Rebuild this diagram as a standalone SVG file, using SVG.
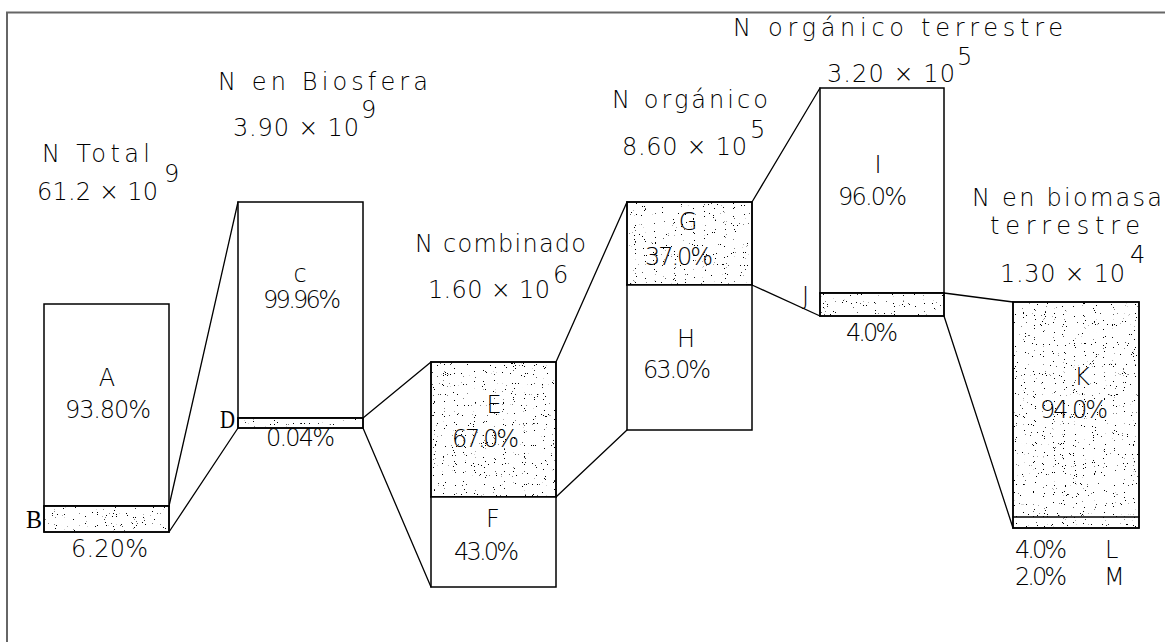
<svg xmlns="http://www.w3.org/2000/svg" width="1165" height="642" viewBox="0 0 1165 642">
  <defs>
    <!-- random speckle used for the shaded fractions -->
    <filter id="speckle" x="0" y="0" width="1" height="1" filterUnits="objectBoundingBox" color-interpolation-filters="sRGB">
      <feTurbulence type="fractalNoise" baseFrequency="1.1" numOctaves="1" seed="7" result="noise"/>
      <feColorMatrix in="noise" type="matrix" values="0 0 0 0 0  0 0 0 0 0  0 0 0 0 0  1 0 0 0 0"/>
      <feComponentTransfer>
        <feFuncA type="linear" slope="40" intercept="-27.6"/>
      </feComponentTransfer>
    </filter>
    <style>
      .frame { stroke: #666; stroke-width: 2; fill: none; }
      .box { fill: #fff; stroke: #000; stroke-width: 1.5; }
      .outline { fill: none; stroke: #000; stroke-width: 1.5; }
      .dots { fill: #000; filter: url(#speckle); }
      .edge { stroke: #000; stroke-width: 1.3; fill: none; stroke-linecap: round; }
      text { font-family: "DejaVu Sans", "Liberation Sans", sans-serif; font-size: 24px; font-weight: 200; fill: #000; }
      .serif { font-family: "Liberation Serif", "Times New Roman", serif; font-size: 25px; font-weight: normal; }
      .mid { text-anchor: middle; }
    </style>
  </defs>

  <rect width="1165" height="642" fill="#fff"/>

  <!-- drawing border -->
  <path class="frame" d="M7 642 V12.5 H1165"/>

  <!-- connectors between stages -->
  <g id="connectors">
    <line class="edge" x1="169" y1="506" x2="238" y2="202"/>
    <line class="edge" x1="169" y1="532" x2="238" y2="428"/>
    <line class="edge" x1="363" y1="418" x2="431" y2="362"/>
    <line class="edge" x1="363" y1="428" x2="431" y2="587"/>
    <line class="edge" x1="556" y1="362" x2="627" y2="202"/>
    <line class="edge" x1="556" y1="497" x2="627" y2="430"/>
    <line class="edge" x1="752" y1="202" x2="820" y2="88"/>
    <line class="edge" x1="752" y1="285" x2="820" y2="316"/>
    <line class="edge" x1="944" y1="293" x2="1013" y2="302"/>
    <line class="edge" x1="944" y1="316" x2="1013" y2="528"/>
  </g>

  <!-- stage 1: total nitrogen -->
  <g id="n-total">
    <text x="42" y="162" textLength="108" lengthAdjust="spacing">N Total</text>
    <text x="37" y="200" textLength="121" lengthAdjust="spacing">61.2 × 10</text>
    <text x="164" y="182">9</text>
    <rect class="box" x="44" y="304" width="125" height="202"/>
    <rect class="box" x="44" y="506" width="125" height="26"/>
    <rect class="dots" x="45" y="507" width="123" height="24"/>
    <rect class="outline" x="44" y="506" width="125" height="26"/>
    <text class="mid" x="107" y="386">A</text>
    <text x="65" y="418" textLength="86" lengthAdjust="spacing">93.80%</text>
    <text class="serif" x="26" y="528" textLength="16" lengthAdjust="spacingAndGlyphs">B</text>
    <text x="71" y="557" textLength="77" lengthAdjust="spacing">6.20%</text>
  </g>

  <!-- stage 2: biosphere -->
  <g id="n-biosfera">
    <text x="218" y="90" textLength="210" lengthAdjust="spacing">N en Biosfera</text>
    <text x="233" y="136" textLength="126" lengthAdjust="spacing">3.90 × 10</text>
    <text x="361" y="118">9</text>
    <rect class="box" x="238" y="202" width="125" height="216"/>
    <rect class="box" x="238" y="418" width="125" height="10"/>
    <rect class="dots" x="239" y="419" width="123" height="8"/>
    <rect class="outline" x="238" y="418" width="125" height="10"/>
    <text class="mid" x="300" y="282">c</text>
    <text x="263" y="308" textLength="78" lengthAdjust="spacing">99.96%</text>
    <text class="serif" x="220" y="428" textLength="15" lengthAdjust="spacingAndGlyphs">D</text>
    <text x="266" y="446" textLength="69" lengthAdjust="spacing">0.04%</text>
  </g>

  <!-- stage 3: combined nitrogen -->
  <g id="n-combinado">
    <text x="415" y="252" textLength="171" lengthAdjust="spacing">N combinado</text>
    <text x="428" y="298" textLength="122" lengthAdjust="spacing">1.60 × 10</text>
    <text x="553" y="283">6</text>
    <rect class="box" x="431" y="362" width="125" height="135"/>
    <rect class="dots" x="432" y="363" width="123" height="133"/>
    <rect class="outline" x="431" y="362" width="125" height="135"/>
    <rect class="box" x="431" y="497" width="125" height="90"/>
    <text class="mid" x="494" y="413">E</text>
    <text x="452" y="447" textLength="67" lengthAdjust="spacing">67.0%</text>
    <text class="mid" x="493" y="527">F</text>
    <text x="454" y="560" textLength="65" lengthAdjust="spacing">43.0%</text>
  </g>

  <!-- stage 4: organic nitrogen -->
  <g id="n-organico">
    <text x="612" y="108" textLength="156" lengthAdjust="spacing">N orgánico</text>
    <text x="622" y="155" textLength="125" lengthAdjust="spacing">8.60 × 10</text>
    <text x="750" y="138">5</text>
    <rect class="box" x="627" y="202" width="125" height="83"/>
    <rect class="dots" x="628" y="203" width="123" height="81"/>
    <rect class="outline" x="627" y="202" width="125" height="83"/>
    <rect class="box" x="627" y="285" width="125" height="145"/>
    <text class="mid" x="688" y="230">G</text>
    <text x="645" y="265" textLength="68" lengthAdjust="spacing">37.0%</text>
    <text class="mid" x="686" y="347">H</text>
    <text x="643" y="378" textLength="68" lengthAdjust="spacing">63.0%</text>
  </g>

  <!-- stage 5: terrestrial organic nitrogen -->
  <g id="n-organico-terrestre">
    <text x="733" y="36" textLength="330" lengthAdjust="spacing">N orgánico terrestre</text>
    <text x="827" y="82" textLength="128" lengthAdjust="spacing">3.20 × 10</text>
    <text x="957" y="65">5</text>
    <rect class="box" x="820" y="88" width="124" height="205"/>
    <rect class="box" x="820" y="293" width="124" height="23"/>
    <rect class="dots" x="821" y="294" width="122" height="21"/>
    <rect class="outline" x="820" y="293" width="124" height="23"/>
    <text class="mid" x="878" y="173">I</text>
    <text x="838" y="205" textLength="69" lengthAdjust="spacing">96.0%</text>
    <text x="802" y="304">J</text>
    <text x="846" y="341" textLength="52" lengthAdjust="spacing">4.0%</text>
  </g>

  <!-- stage 6: terrestrial biomass -->
  <g id="n-biomasa-terrestre">
    <text x="972" y="206" textLength="190" lengthAdjust="spacing">N en biomasa</text>
    <text x="990" y="234" textLength="150" lengthAdjust="spacing">terrestre</text>
    <text x="1000" y="282" textLength="125" lengthAdjust="spacing">1.30 × 10</text>
    <text x="1130" y="263">4</text>
    <rect class="box" x="1013" y="302" width="126" height="226"/>
    <rect class="dots" x="1014" y="303" width="124" height="224"/>
    <rect class="outline" x="1013" y="302" width="126" height="226"/>
    <line class="edge" x1="1013" y1="517" x2="1139" y2="517" style="stroke-width:1.6"/>
    <text class="mid" x="1082" y="385">K</text>
    <text x="1040" y="418" textLength="68" lengthAdjust="spacing">94.0%</text>
    <text x="1015" y="558" textLength="52" lengthAdjust="spacing">4.0%</text>
    <text x="1105" y="558">L</text>
    <text x="1015" y="585" textLength="52" lengthAdjust="spacing">2.0%</text>
    <text x="1104" y="585">M</text>
  </g>
</svg>
